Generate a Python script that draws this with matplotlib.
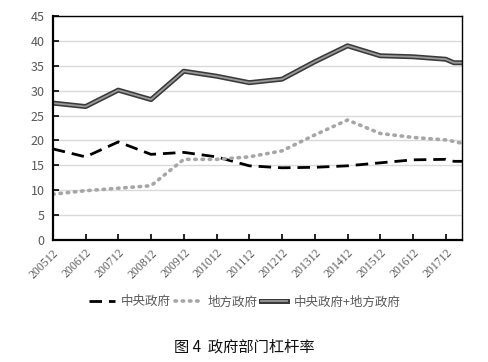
import matplotlib
matplotlib.use("Agg")
import matplotlib.pyplot as plt
import matplotlib.patheffects as pe
import numpy as np

plt.rcParams['font.family'] = ['Noto Sans CJK SC', 'DejaVu Sans']

tick_labels = ["200512", "200612", "200712", "200812", "200912", "201012", "201112",
               "201212", "201312", "201412", "201512", "201612", "201712"]
# period positions in years since 200512 (last two are quarterly: 201803, 201806)
periods = [0, 1, 2, 3, 4, 5, 6, 7, 8, 9, 10, 11, 12, 12.25, 12.5]
central = [18.3, 16.7, 19.7, 17.2, 17.6, 16.7, 14.9, 14.5, 14.6, 14.9, 15.5, 16.1, 16.2, 15.8, 15.8]
local = [9.2, 9.9, 10.4, 10.9, 16.2, 16.2, 16.7, 17.9, 21.1, 24.1, 21.4, 20.6, 20.1, 19.8, 19.4]
total = [27.5, 26.8, 30.1, 28.2, 33.9, 32.9, 31.6, 32.3, 35.8, 39.0, 37.0, 36.8, 36.3, 35.6, 35.6]

fig = plt.figure(figsize=(4.89, 3.62), dpi=100)
ax = fig.add_axes([0.108, 0.337, 0.837, 0.619])

ax.plot(periods, central, color='black', lw=2, dashes=(4.5, 2.5), label='中央政府')
ax.plot(periods, local, color='#a6a6a6', lw=2.6, linestyle=(0, (0.4, 1.6)),
        dash_capstyle='round', label='地方政府')
ax.plot(periods, total, color='#9a9a9a', lw=1.3, label='中央政府+地方政府',
        path_effects=[pe.Stroke(linewidth=3.6, foreground='#3a3a3a'), pe.Normal()])

ax.set_xlim(0, 12.5)
ax.set_ylim(0, 45)
ax.set_yticks(np.arange(0, 46, 5))
ax.set_xticks(range(len(tick_labels)))
ax.set_xticklabels(tick_labels, rotation=45, ha='right', rotation_mode='anchor',
                   fontsize=8.5, color='#595959', family='Liberation Serif')
ax.tick_params(axis='x', direction='in', length=4, width=1.2, pad=5)
ax.tick_params(axis='y', direction='in', length=4, width=1.2, labelsize=9,
               labelcolor='#595959', pad=6)
ax.grid(axis='y', color='#d9d9d9', lw=1)
ax.set_axisbelow(True)
for s in ['left', 'bottom']:
    ax.spines[s].set_linewidth(1.6)
for s in ['top', 'right']:
    ax.spines[s].set_linewidth(1.0)

fig.legend(loc='center', bbox_to_anchor=(0.5, 0.166), ncol=3, frameon=False,
           fontsize=9, handlelength=2.1, columnspacing=0.3, handletextpad=0.5,
           labelcolor='#595959')

fig.text(0.5, 0.04, '图 4  政府部门杠杆率', ha='center', va='center', fontsize=11,
         color='#111111', weight='medium')

fig.savefig('out.png', dpi=100)
